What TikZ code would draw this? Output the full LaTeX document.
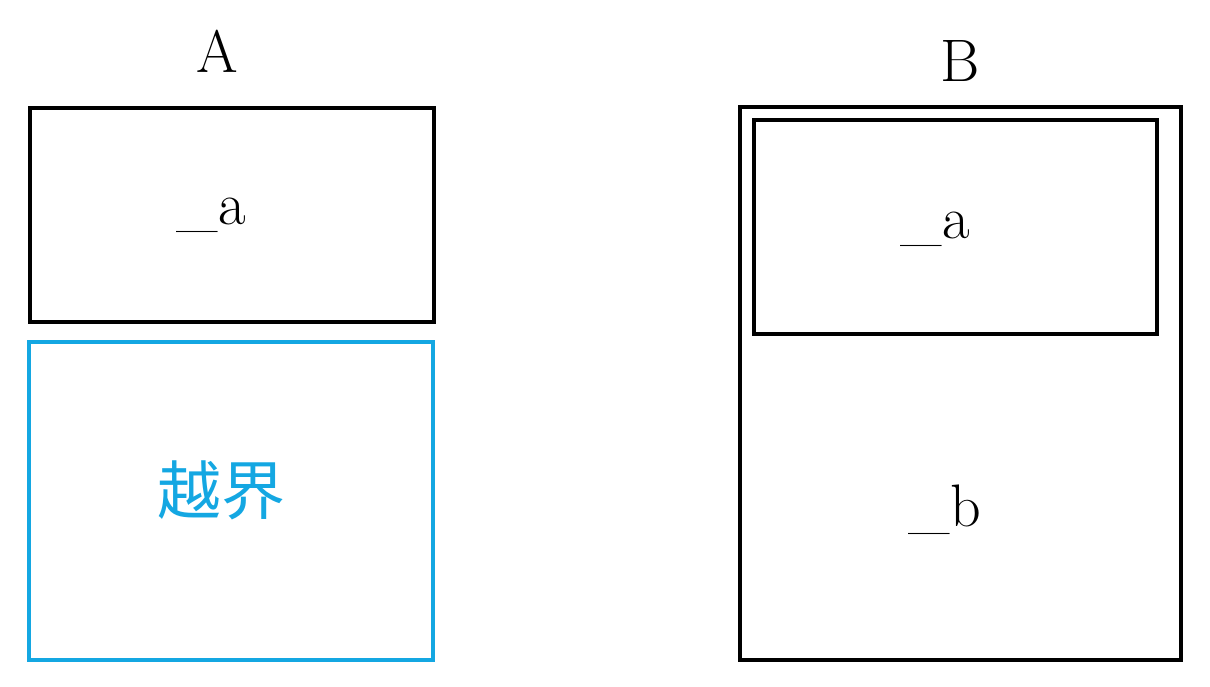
\documentclass[tikz,border=0pt]{standalone}
\usepackage{fontspec}
\newfontfamily\cjk{Noto Sans CJK SC}
\definecolor{skyb}{RGB}{20,167,226}
\begin{document}
\begin{tikzpicture}[x=1pt,y=-1pt,
  box/.style={draw=black,line width=4pt},
  bluebox/.style={draw=skyb,line width=4pt},
  lbl/.style={anchor=base,inner sep=0pt,font=\fontsize{60}{60}\selectfont},
  cjklbl/.style={inner sep=0pt,text=skyb,font=\cjk\fontsize{64}{64}\selectfont}]
\useasboundingbox (0,0) rectangle (1210,687);
% left column
\node[lbl] (tA) at (217,73) {A};
\draw[box] (30,108) rectangle (434,322);
\node[lbl] (aA) at (211,225) {\_a};
\draw[bluebox] (29,342) rectangle (433,660);
\node[cjklbl] (oob) at (221,490) {越界};
% right column
\node[lbl] (tB) at (960,82) {B};
\draw[box] (740,107) rectangle (1181,660);
\draw[box] (754,120) rectangle (1157,334);
\node[lbl] (aB) at (935,238) {\_a};
\node[lbl] (bB) at (945,526) {\_b};
\end{tikzpicture}
\end{document}
